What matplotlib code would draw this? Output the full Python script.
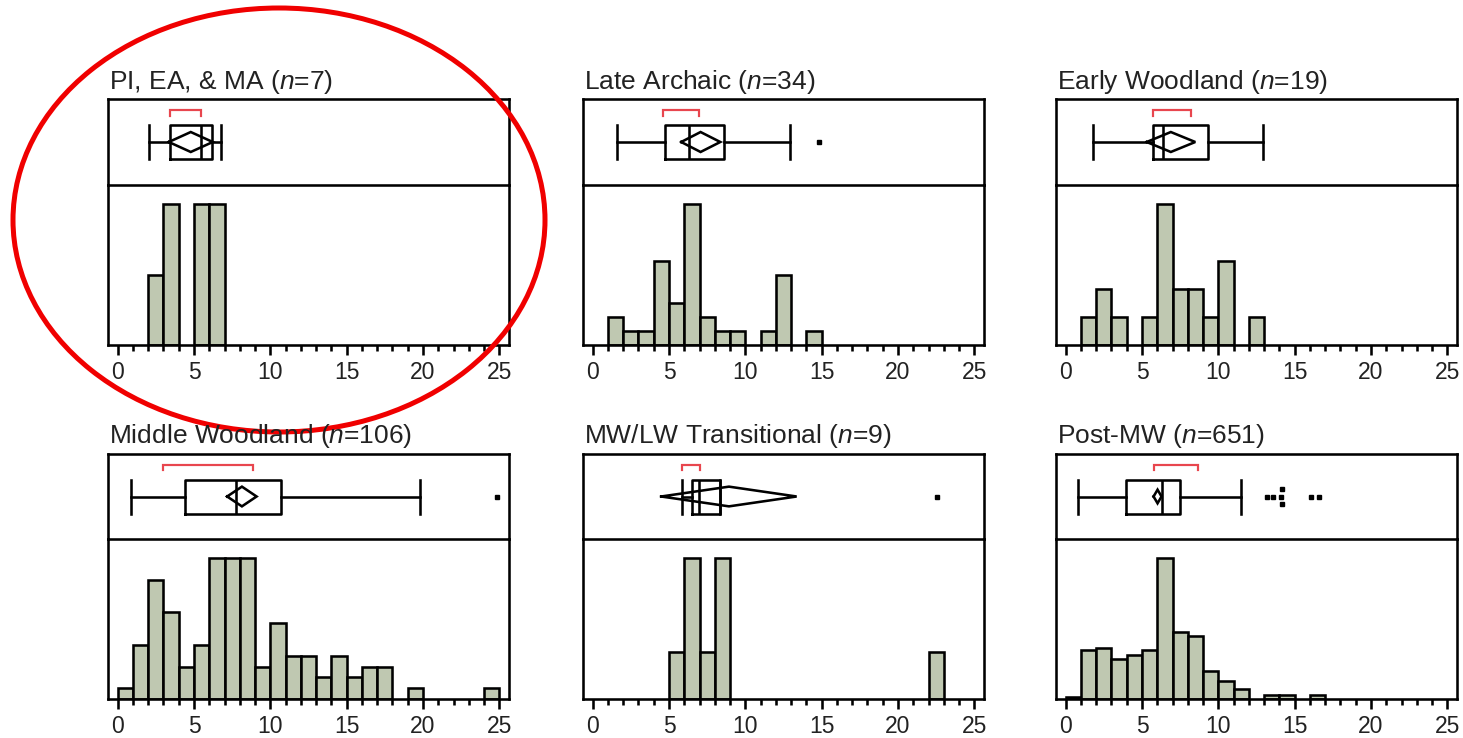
import matplotlib
matplotlib.use('Agg')
import matplotlib.pyplot as plt
from matplotlib.patches import Ellipse
import numpy as np

plt.rcParams['font.family'] = ['Liberation Sans', 'DejaVu Sans']
plt.rcParams['mathtext.fontset'] = 'custom'
plt.rcParams['mathtext.rm'] = 'Liberation Sans'
plt.rcParams['mathtext.it'] = 'Liberation Sans:italic'

# panel titles and sample sizes
titles = ['PI, EA, & MA', 'Late Archaic', 'Early Woodland',
          'Middle Woodland', 'MW/LW Transitional', 'Post-MW']
sizes = [7, 34, 19, 106, 9, 651]

# histogram counts, bin k covers [k, k+1)
counts_pi = [0, 0, 1, 2, 0, 2, 2]
counts_la = [0, 2, 1, 1, 6, 3, 10, 2, 1, 1, 0, 1, 5, 0, 1]
counts_ew = [0, 1, 2, 1, 0, 1, 5, 2, 2, 1, 3, 0, 1]
counts_mw = [1, 5, 11, 8, 3, 5, 13, 13, 13, 3, 7, 4, 4, 2, 4, 2, 3, 3, 0, 1,
             0, 0, 0, 0, 1]
counts_tr = [0, 0, 0, 0, 0, 1, 3, 1, 3, 0, 0, 0, 0, 0, 0, 0, 0, 0, 0, 0, 0, 0, 1]
counts_post = [2, 56, 58, 45, 50, 56, 160, 76, 72, 32, 21, 11, 0, 4, 4, 0, 4]
all_counts = [counts_pi, counts_la, counts_ew, counts_mw, counts_tr, counts_post]

# box plot summaries
whislo = [2.07, 1.58, 1.77, 0.87, 5.87, 0.79]
q1 = [3.40, 4.73, 5.73, 4.44, 6.53, 3.94]
med = [5.47, 6.33, 6.36, 7.74, 6.96, 6.29]
q3 = [6.17, 8.63, 9.32, 10.67, 8.37, 7.49]
whishi = [6.78, 12.94, 12.90, 19.82, 8.37, 11.46]

# mean diamonds (mean and 95% CI)
means = [4.79, 7.07, 6.89, 8.14, 8.93, 6.02]
ci_lo = [3.35, 5.80, 5.31, 7.17, 4.49, 5.76]
ci_hi = [6.23, 8.36, 8.49, 9.10, 13.36, 6.28]

# shortest half brackets
short_lo = [3.40, 4.58, 5.73, 2.97, 5.87, 5.76]
short_hi = [5.47, 6.96, 8.22, 8.88, 7.05, 8.68]

# outliers and their stacking rows
outliers = [[], [14.82], [], [24.82], [22.55],
            [13.17, 13.56, 14.09, 14.2, 14.2, 16.06, 16.6]]
outlier_rows = [[], [0], [], [0], [0], [0, 0, 0, 1, -1, 0, 0]]

W, H = 1463, 738
fig = plt.figure(figsize=(W / 100, H / 100), dpi=100)

lefts = [108, 583, 1056]
row_tops = [99, 454]
box_h = [86, 85]
hist_h = [160, 160]
panel_w = 401
xlim = (-0.63, 25.63)
lw = 1.85
bar_color = '#BFC8B1'
red = '#E8464E'

def px_axes(left, top, w, h):
    return fig.add_axes([left / W, 1 - (top + h) / H, w / W, h / H])

for i in range(6):
    r, c = divmod(i, 3)
    left = lefts[c]
    top = row_tops[r]

    # histogram below, box plot on top (drawn last so divider is not covered)
    axh = px_axes(left, top + box_h[r], panel_w, hist_h[r])
    axb = px_axes(left, top, panel_w, box_h[r])
    axh.patch.set_visible(False)
    axb.patch.set_visible(False)

    stats = [dict(med=med[i], q1=q1[i], q3=q3[i], whislo=whislo[i],
                  whishi=whishi[i], fliers=[])]
    props = dict(color='black', linewidth=lw)
    kw = dict(positions=[0.5], widths=[0.4], capwidths=[0.4], showfliers=False,
              boxprops=props, whiskerprops=props, capprops=props,
              medianprops=props)
    try:
        axb.bxp(stats, orientation='horizontal', **kw)
    except TypeError:
        axb.bxp(stats, vert=False, **kw)

    dh = 0.116 if i != 5 else 0.08
    axb.plot([ci_lo[i], means[i], ci_hi[i], means[i], ci_lo[i]],
             [0.5, 0.5 + dh, 0.5, 0.5 - dh, 0.5],
             color='black', linewidth=lw, solid_joinstyle='miter', zorder=4)

    axb.plot([short_lo[i], short_lo[i], short_hi[i], short_hi[i]],
             [0.806, 0.872, 0.872, 0.806], color=red, linewidth=lw * 0.85,
             solid_joinstyle='miter')

    if outliers[i]:
        ys = [0.5 + 0.09 * k for k in outlier_rows[i]]
        axb.plot(outliers[i], ys, linestyle='none', marker='s',
                 markersize=3.2, color='black')

    axb.set_xlim(*xlim)
    axb.set_ylim(0, 1)
    axb.set_xticks([])
    axb.set_yticks([])
    for s in axb.spines.values():
        s.set_linewidth(lw)

    # histogram
    counts = all_counts[i]
    edges = [k for k in range(len(counts)) if counts[k] > 0]
    vals = [counts[k] for k in edges]
    axh.bar(edges, vals, width=1, align='edge', color=bar_color,
            edgecolor='black', linewidth=lw)
    axh.set_xlim(*xlim)
    axh.set_ylim(0, max(counts) * 1.138)
    axh.set_yticks([])
    axh.set_xticks(range(0, 26, 5))
    axh.set_xticks(range(0, 26), minor=True)
    axh.tick_params(axis='x', which='major', direction='out', length=7.2,
                    width=lw, labelsize=16.5, pad=4.5, labelcolor='#222222')
    axh.tick_params(axis='x', which='minor', direction='out', length=4.3,
                    width=lw)
    axh.spines['top'].set_visible(False)
    for s in ['left', 'right', 'bottom']:
        axh.spines[s].set_linewidth(lw)

    fig.text((left + 1) / W, 1 - (top - 10.5) / H,
             f'{titles[i]} ($n$={sizes[i]})', fontsize=19,
             ha='left', va='baseline', color='#222222')

# red highlight ellipse around the first panel, on top of everything
over = fig.add_axes([0, 0, 1, 1])
over.set_xlim(0, W)
over.set_ylim(H, 0)
over.axis('off')
over.add_patch(Ellipse((279, 220), 532, 424, fill=False,
                       edgecolor='#F00000', linewidth=3.6))

fig.savefig('out.png', dpi=100)
